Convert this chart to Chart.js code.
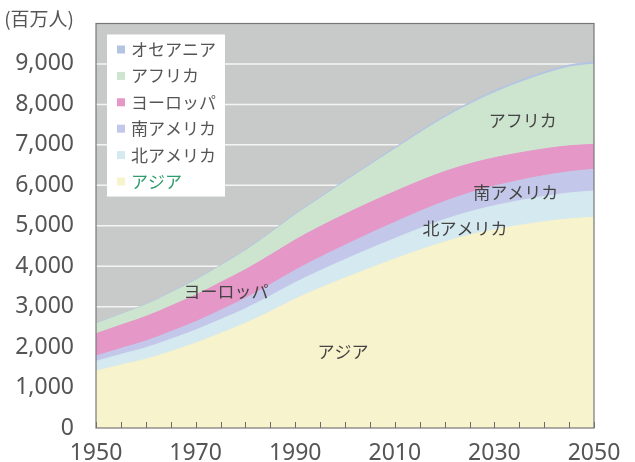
<!DOCTYPE html>
<html><head><meta charset="utf-8">
<script src="https://cdn.jsdelivr.net/npm/chart.js@4/dist/chart.umd.min.js"></script>
<style>html,body{margin:0;padding:0;background:#fff;}#wrap{width:635px;height:462px;}</style>
</head><body><div id="wrap"><canvas id="c" width="635" height="462"></canvas></div>
<script>
// ---- data (millions of people) ----
const years = [1950,1955,1960,1965,1970,1975,1980,1985,1990,1995,2000,2005,2010,2015,2020,2025,2030,2035,2040,2045,2050];
const asia         = [1410,1560,1700,1890,2100,2340,2590,2880,3190,3460,3710,3950,4180,4400,4600,4770,4900,5010,5100,5170,5210];
const northAmerica = [240,260,285,305,320,340,360,385,405,430,455,480,505,530,555,575,595,610,625,640,650];
const southAmerica = [130,145,165,185,205,230,255,280,305,330,355,380,400,425,445,465,485,500,515,525,535];
const europe       = [550,580,605,635,660,690,710,730,750,760,765,765,760,750,740,720,700,680,660,640,620];
const africa       = [245,265,290,325,365,410,470,540,620,700,810,920,1050,1190,1330,1470,1610,1735,1850,1945,1985];
const oceania      = [13,14,16,18,19,21,23,25,27,29,31,33,36,39,42,44,46,48,50,52,54];
const seriesNames  = ['アジア','北アメリカ','南アメリカ','ヨーロッパ','アフリカ','オセアニア'];
const xLabelYears  = [1950,1970,1990,2010,2030,2050];
const yUnitLabel   = '(百万人)';
const areaLabelText  = ['アフリカ','南アメリカ','北アメリカ','アジア','ヨーロッパ'];
const areaLabelYear  = [2035.7,2034.3,2024.1,1999.6,1976.1];
const areaLabelValue = [7600,5830,4940,1880,3380];

const colors = ['#f7f3cd','#d5e9f0','#c3c8ea','#e597c7','#cde4cf','#b3c5e3'];
const FONT = "'Noto Sans', 'Noto Sans CJK JP', sans-serif";
const JFONT = "'Noto Sans CJK JP', 'Noto Sans', sans-serif";

const seriesValues = [asia, northAmerica, southAmerica, europe, africa, oceania];
const datasets = seriesValues.map((vals, i) => ({
  label: seriesNames[i],
  data: years.map((yr, j) => ({x: yr, y: vals[j]})),
  backgroundColor: colors[i],
  borderColor: colors[i],
  borderWidth: 1,
  pointRadius: 0,
  fill: i === 0 ? 'origin' : '-1',
  cubicInterpolationMode: 'monotone'
}));

const bgPlugin = {
  id: 'plotBg',
  beforeDraw(chart) {
    const {ctx, chartArea: a} = chart;
    ctx.save(); ctx.fillStyle = '#c8cac9';
    ctx.fillRect(a.left, a.top, a.right - a.left, a.bottom - a.top);
    ctx.restore();
  }
};

// white grid lines at the y scale's ticks, then the legend box inside the plot (under the areas)
const insideLegend = {
  id: 'insideLegend',
  beforeDatasetsDraw(chart) {
    const {ctx, chartArea: a, scales} = chart;
    const ys = scales.y;
    ctx.save();
    ctx.strokeStyle = '#f4f4f4'; ctx.lineWidth = 1.5;
    ys.ticks.forEach(t => {
      if (t.value <= ys.min || t.value >= ys.max) return;
      const py = ys.getPixelForValue(t.value);
      ctx.beginPath(); ctx.moveTo(a.left, py); ctx.lineTo(a.right, py); ctx.stroke();
    });
    const ds = chart.data.datasets;
    ctx.fillStyle = '#ffffff';
    ctx.fillRect(a.left + 11, a.top + 11, 118, 162);
    ctx.font = '17px ' + JFONT;
    ctx.textAlign = 'left'; ctx.textBaseline = 'middle';
    for (let k = 0; k < ds.length; k++) {
      const d = ds[ds.length - 1 - k];
      const cy = a.top + 26 + k * 26.4;
      ctx.fillStyle = d.backgroundColor;
      ctx.fillRect(a.left + 21, cy - 4, 8, 8);
      ctx.fillStyle = d.label === 'アジア' ? '#2f9c6c' : '#555';
      ctx.fillText(d.label, a.left + 35, cy);
    }
    ctx.restore();
  }
};

const framePlugin = {
  id: 'frame',
  afterDatasetsDraw(chart) {
    const {ctx, chartArea: a, scales} = chart;
    ctx.save();
    ctx.font = '17px ' + JFONT;
    ctx.fillStyle = '#444';
    ctx.textAlign = 'center'; ctx.textBaseline = 'middle';
    areaLabelText.forEach((t, i) => {
      ctx.fillText(t, scales.x.getPixelForValue(areaLabelYear[i]), scales.y.getPixelForValue(areaLabelValue[i]));
    });
    // inward tick marks at the x scale's ticks
    ctx.strokeStyle = '#6a6a6a'; ctx.lineWidth = 1;
    scales.x.ticks.forEach(t => {
      const px = Math.round(scales.x.getPixelForValue(t.value)) + 0.5;
      ctx.beginPath(); ctx.moveTo(px, a.bottom); ctx.lineTo(px, a.bottom - 6); ctx.stroke();
    });
    ctx.strokeStyle = '#777'; ctx.lineWidth = 1.2;
    ctx.strokeRect(a.left, a.top, a.right - a.left, a.bottom - a.top);
    ctx.restore();
  }
};

new Chart(document.getElementById('c'), {
  type: 'line',
  data: {datasets},
  plugins: [bgPlugin, insideLegend, framePlugin],
  options: {
    responsive: false,
    animation: false,
    events: [],
    devicePixelRatio: 1,
    layout: {padding: {left: 0, right: 41, top: 22, bottom: 0}},
    plugins: {
      tooltip: {enabled: false},
      legend: {display: false}
    },
    scales: {
      x: {
        type: 'linear', min: 1950, max: 2050,
        afterFit(s) { s.height = 34; },
        grid: {display: false},
        border: {display: false},
        ticks: {
          stepSize: 5, autoSkip: false, maxRotation: 0, padding: 4,
          color: '#555', font: {size: 23, family: FONT},
          callback: (v) => xLabelYears.includes(v) ? String(v) : ''
        }
      },
      y: {
        stacked: true, min: 0, max: 10000,
        afterFit(s) { s.width = 96; },
        grid: {display: false},
        border: {display: false},
        ticks: {
          stepSize: 1000, padding: 14, color: '#555',
          font: (ctx) => (ctx.tick && ctx.tick.value === 10000) ? {size: 19, family: JFONT, lineHeight: 0.5} : {size: 23, family: FONT},
          callback: (v) => v === 10000 ? [yUnitLabel, ''] : v.toLocaleString('en-US')
        }
      }
    }
  }
});
</script></body></html>
